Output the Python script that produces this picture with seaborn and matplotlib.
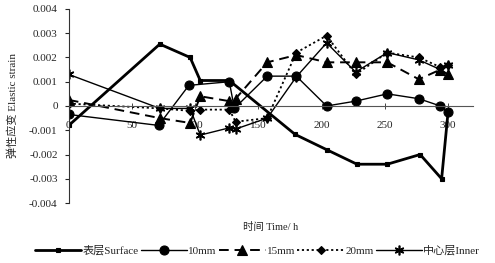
import seaborn as sns
import pandas as pd
import matplotlib.pyplot as plt
from matplotlib.ticker import FuncFormatter

# values (time in h, elastic strain)
surface_t = [0, 72, 96, 104, 127, 179, 204, 228, 252, 278, 295, 300]
surface_v = [-0.0008, 0.00255, 0.002, 0.00105, 0.00105, -0.00117, -0.0018, -0.0024, -0.0024, -0.002, -0.003, -0.0003]

mm10_t = [0, 71, 95, 127, 131, 157, 180, 204, 227, 252, 277, 294, 300]
mm10_v = [-0.00035, -0.0008, 0.00085, 0.001, -0.0001, 0.00123, 0.00123, 0.0, 0.0002, 0.0005, 0.0003, 0.0, -0.00025]

mm15_t = [0, 72, 96, 104, 127, 132, 157, 180, 204, 227, 252, 277, 294, 300]
mm15_v = [0.00025, -0.0005, -0.0007, 0.0004, 0.0002, 0.0003, 0.0018, 0.0021, 0.0018, 0.0018, 0.0018, 0.0011, 0.0015, 0.0013]

mm20_t = [0, 72, 96, 104, 127, 132, 157, 180, 204, 227, 252, 277, 294, 300]
mm20_v = [0.0001, -0.0001, -0.0002, -0.00015, -0.00015, -0.00065, -0.0005, 0.0022, 0.0029, 0.0013, 0.0022, 0.002, 0.0016, 0.0017]

inner_t = [0, 72, 96, 104, 127, 132, 157, 180, 204, 227, 252, 277, 294, 300]
inner_v = [0.0013, -0.0001, -0.0001, -0.0012, -0.0009, -0.00095, -0.0005, 0.0012, 0.0026, 0.0014, 0.0022, 0.0019, 0.0015, 0.0017]

labels = ["表层Surface", "10mm", "15mm", "20mm", "中心层Inner"]
xticks = [0, 50, 100, 150, 200, 250, 300]
yticks = [-0.004, -0.003, -0.002, -0.001, 0, 0.001, 0.002, 0.003, 0.004]

sns.set_style("white")
plt.rcParams['font.family'] = ['Liberation Serif', 'Noto Sans CJK SC']
plt.rcParams['font.size'] = 8

fig = plt.figure(figsize=(4.95, 2.63), dpi=100)
ax = fig.add_axes([0.139, 0.228, 0.817, 0.738])

series = [
    (surface_t, surface_v, dict(lw=2.0, marker='s', ms=2.5, ls='-')),
    (mm10_t, mm10_v, dict(lw=1.0, marker='o', ms=6.5, ls='-')),
    (mm15_t, mm15_v, dict(lw=1.4, marker='^', ms=6.5, ls=(0, (5, 3)))),
    (mm20_t, mm20_v, dict(lw=1.3, marker='D', ms=4.5, ls=(0, (1.2, 1.5)))),
    (inner_t, inner_v, dict(lw=1.0, marker=(6, 2, 0), ms=7, ls='-', mew=1.2)),
]

for (t, v, kw), lab in zip(series, labels):
    df = pd.DataFrame({"time": t, "strain": v})
    kw.setdefault('mew', 0.8)
    sns.lineplot(data=df, x="time", y="strain", ax=ax, color='black',
                 mec='black', mfc='black', sort=False, estimator=None,
                 label=lab, **kw)

ax.set_xlim(0, 320)
ax.set_ylim(-0.004, 0.004)
ax.set_xticks(xticks)
ax.set_yticks(yticks)
ax.yaxis.set_major_formatter(FuncFormatter(lambda v, p: '0' if abs(v) < 1e-9 else f'{v:.3f}'))

for s in ['top', 'right']:
    ax.spines[s].set_visible(False)
ax.spines['bottom'].set_position(('data', 0))
ax.spines['bottom'].set_color('#555555')
ax.spines['bottom'].set_linewidth(0.8)
ax.spines['left'].set_color('#333333')
ax.spines['left'].set_linewidth(0.8)

ax.tick_params(axis='y', direction='out', length=3, width=0.8, pad=5, labelsize=8, left=True)
ax.tick_params(axis='x', direction='inout', length=4, width=0.6, pad=9, labelsize=8, bottom=True)

ax.set_xlabel("时间 Time/ h", fontsize=7.5)
ax.set_ylabel("弹性应变 Elastic strain", fontsize=8)
ax.xaxis.set_label_coords(0.5, -0.10)
ax.yaxis.set_label_coords(-0.125, 0.5)

handles, labs = ax.get_legend_handles_labels()
ax.get_legend().remove()
fig.legend(handles, labs, loc='center', bbox_to_anchor=(0.52, 0.047), ncol=5,
           frameon=False, handlelength=4.2, handletextpad=0.1, columnspacing=0.2,
           fontsize=8, borderaxespad=0)

fig.savefig("out.png", dpi=100)
